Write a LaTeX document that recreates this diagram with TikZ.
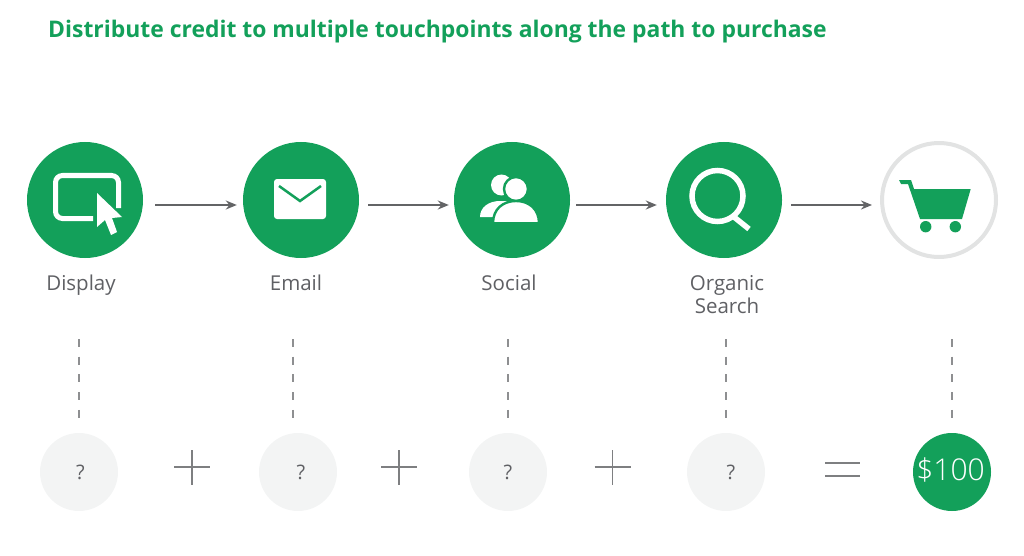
\documentclass[tikz,border=0pt]{standalone}
\usepackage{fontspec}
\setmainfont{Open Sans}
\newfontfamily\lightfont{Open Sans Light}
\usepackage{xcolor}
\usetikzlibrary{arrows.meta,positioning}
\definecolor{accent}{HTML}{13A05A}
\definecolor{soft}{HTML}{F3F4F4}
\definecolor{ringgray}{HTML}{E2E3E3}
\definecolor{textgray}{HTML}{5F6064}
\definecolor{linegray}{HTML}{636466}
\definecolor{signgray}{HTML}{7E7F81}
\definecolor{dashgray}{HTML}{8E8F91}
\tikzset{
  vgreen/.style={circle,fill=accent,minimum size=116pt,inner sep=0pt},
  vcart/.style={circle,draw=ringgray,fill=white,line width=4pt,minimum size=114pt,inner sep=0pt},
  vsoft/.style={circle,fill=soft,minimum size=78pt,inner sep=0pt,text=textgray,font=\fontsize{20}{22}\selectfont},
  vsum/.style={circle,fill=accent,minimum size=78pt,inner sep=0pt,text=white,font=\fontsize{30}{32}\lightfont},
  vlabel/.style={text=textgray,align=center,inner sep=0pt,font=\fontsize{20.5}{23}\selectfont},
  varr/.style={-{Stealth[length=11pt,width=9pt]},line width=2pt,draw=linegray},
  vlink/.style={line width=2pt,draw=dashgray,dash pattern=on 8pt off 9.7pt,shorten >=14pt},
  vsign/.style={line width=1.5pt,draw=signgray},
  vicon/.style={draw=white,line width=5pt}
}
\begin{document}
\begin{tikzpicture}[x=1pt,y=-1pt]
  \useasboundingbox (0,0) rectangle (1024,556);
  \node[anchor=west,inner sep=0pt,text=accent,font=\fontsize{22.9}{25}\selectfont\bfseries] (title) at (48,32)
    {Distribute credit to multiple touchpoints along the path to purchase};
  \node[vgreen] (display) at (85,200) {};
  \node[vgreen] (email) at (301,200) {};
  \node[vgreen] (social) at (512,200) {};
  \node[vgreen] (search) at (724,200) {};
  \node[vcart] (cart) at (939,200) {};
  \node[vlabel,anchor=base] (ldisplay) at (81,290) {Display};
  \node[vlabel,anchor=base] (lemail) at (296,290) {Email};
  \node[vlabel,anchor=base] (lsocial) at (509,290) {Social};
  \node[vlabel] (lsearch) at (727,295) {Organic\\Search};
  \node[vsoft] (qdisplay) at (79,472) {\kern3pt ?};
  \node[vsoft] (qemail) at (298,472) {\kern6pt ?};
  \node[vsoft] (qsocial) at (508,472) {?};
  \node[vsoft] (qsearch) at (726,472) {\kern10pt ?};
  \node[vsum] (total) at (952,472) {\raisebox{6pt}{\$100\kern3pt}};
  \foreach \a/\b/\s/\e in {display/email/12/6,email/social/9/5,social/search/6/9,search/cart/9/8}
    \draw[varr,shorten <=\s pt,shorten >=\e pt] ([yshift=-5pt]\a.east) -- ([yshift=-5pt]\b.west);
  \coordinate (tdisplay) at (79,339);
  \coordinate (temail) at (293,339);
  \coordinate (tsocial) at (508,339);
  \coordinate (tsearch) at (726,339);
  \coordinate (tcart) at (952,339);
  \draw[vlink] (tdisplay) -- (tdisplay |- qdisplay.north);
  \draw[vlink] (temail) -- (temail |- qemail.north);
  \draw[vlink] (tsocial) -- (qsocial.north);
  \draw[vlink] (tsearch) -- (qsearch.north);
  \draw[vlink] (tcart) -- (total.north);
  \foreach \x in {192,399,612.5} {
    \draw[vsign] (\x-18,467) -- (\x+18,467);
    \draw[vsign] (\x,450) -- (\x,485);
  }
  \draw[vsign] (825,463) -- (860,463);
  \draw[vsign] (825,476) -- (860,476);
  % display
  \draw[vicon,rounded corners=7pt] (93,218.5) -- (55.5,218.5) -- (55.5,175.5) -- (118.5,175.5) -- (118.5,208);
  \fill[white] (97,193) -- (97,227) -- (105,220) -- (111,235) -- (117,232) -- (112,218) -- (122,217) -- cycle;
  % email
  \fill[white,rounded corners=3pt] (274,179) rectangle (326,219);
  \draw[accent,line width=2.5pt] (279,186) -- (300,201) -- (321,186);
  % social
  \fill[white] (501.5,185) circle (10.5);
  \fill[white] (480,217) .. controls (480,207) and (489,201) .. (500,201) -- (512,201) -- (512,217) -- cycle;
  \draw[accent,line width=2.4pt,fill=white] (516,189) circle (12);
  \draw[accent,line width=2.4pt,fill=white] (493,223.2) .. controls (493,209) and (503,201) .. (516,201)
    .. controls (529,201) and (539,209) .. (539,223.2) -- cycle;
  % search
  \draw[vicon,line width=5.5pt] (717.5,196) circle (25.5);
  \draw[vicon,line width=5.5pt] (734,217) -- (749,229);
  % cart
  \fill[accent] (899,180) -- (911,180) -- (914,189) -- (970.7,189) -- (962,219) -- (920,219) -- (908,184) -- (901,184) -- cycle;
  \fill[accent] (925.7,226.7) circle (5.7);
  \fill[accent] (955.3,226.7) circle (5.7);
\end{tikzpicture}
\end{document}
